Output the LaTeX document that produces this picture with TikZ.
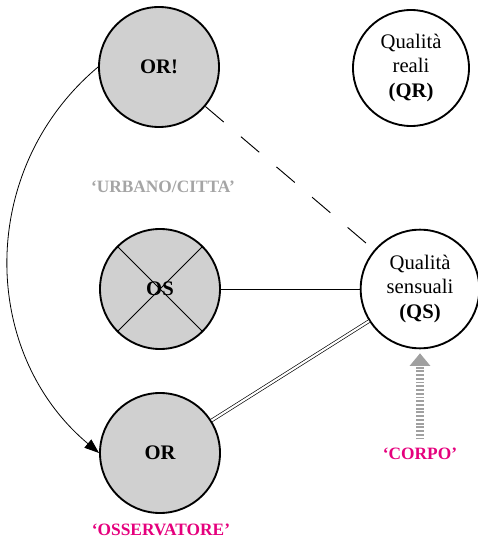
\documentclass[tikz,border=0pt]{standalone}
\usepackage{fontspec}
\setmainfont{Liberation Serif}
\usetikzlibrary{arrows.meta}
\definecolor{objgray}{RGB}{208,208,208}
\definecolor{tagmagenta}{RGB}{229,0,125}
\definecolor{taggray}{RGB}{165,165,165}
\definecolor{stripegray}{RGB}{160,160,160}

\tikzset{
    object/.style={circle, draw, line width=1.4pt, fill=objgray, minimum size=90pt, inner sep=0pt,
        font=\fontsize{15.5}{18.5}\selectfont\bfseries},
    quality/.style={circle, draw, line width=1.4pt, fill=white, minimum size=87pt, inner sep=0pt,
        align=center, font=\fontsize{15.5}{18.5}\selectfont},
    tag/.style={font=\fontsize{13}{15}\selectfont\bfseries},
    link/.style={line width=0.7pt}
}

\begin{document}
\begin{tikzpicture}[x=0.75pt, y=0.75pt]
        \useasboundingbox (0, 0) rectangle (478, 544);

        % objects
        \node[object] (orx) at (159, 477) {OR!};
        \node[object] (os) at (160, 255) {OS};
        \node[object] (or) at (160, 91) {OR};
        \draw[line width=0.6pt] (os.45) -- (os.225);
        \draw[line width=0.6pt] (os.135) -- (os.315);

        % qualities
        \node[quality, minimum size=87pt] (qr) at (411, 476) {Qualità\\reali\\\textbf{(QR)}};
        \node[quality, minimum size=89pt] (qs) at (420, 255) {Qualità\\sensuali\\\textbf{(QS)}};

        % labels
        \node[tag, text=taggray] (urbano) at (163, 357) {‘URBANO/CITTA’};
        \node[tag, text=tagmagenta] (corpo) at (420, 90) {‘CORPO’};
        \node[tag, text=tagmagenta] (osservatore) at (161, 14) {‘OSSERVATORE’};

        % connectors
        \draw[link, dash pattern=on 18pt off 17pt] (orx) -- (qs);
        \draw[link] (os) -- (qs);
        \draw[line width=0.5pt, double, double distance=1.6pt] (or) -- (qs);
        \draw[line width=0.6pt, -{Triangle[length=11pt, width=8pt]}]
            (orx.west) to[out=220, in=140, looseness=1.04] (or.west);
        \draw[stripegray, line width=6.5pt, dash pattern=on 1.4pt off 1.4pt,
            -{Triangle[length=9.5pt, width=15pt]}, shorten <=3pt, shorten >=3pt]
            (corpo.north) -- (qs.south);
\end{tikzpicture}
\end{document}
